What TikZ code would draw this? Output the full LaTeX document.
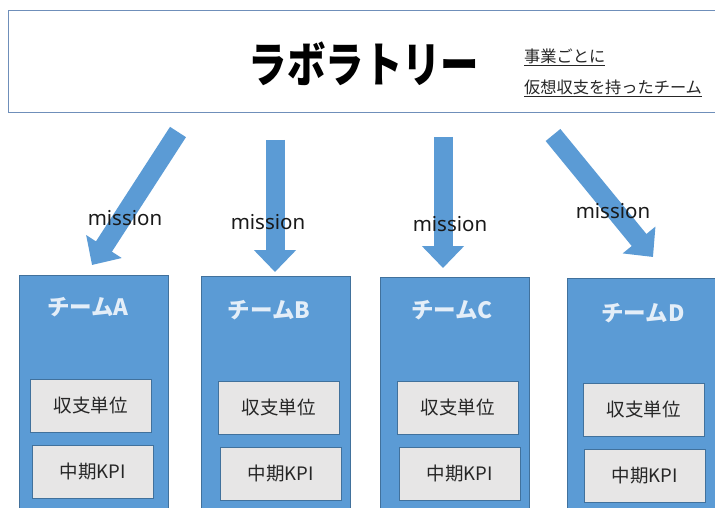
\documentclass[tikz,border=0pt]{standalone}
\usepackage{fontspec}
\usetikzlibrary{arrows.meta}
\newfontfamily\jp{Noto Sans CJK JP}
\newfontfamily\lat{Noto Sans}
\definecolor{teamblue}{HTML}{5B9BD5}
\definecolor{bordblue}{HTML}{41719C}
\definecolor{topbord}{HTML}{6F8FBA}
\definecolor{innerfill}{HTML}{E7E6E6}
\definecolor{titlewhite}{HTML}{E4EEF8}
\tikzset{
  topbox/.style={draw=topbord, line width=1.2pt, fill=white},
  teambox/.style={draw=bordblue, fill=teamblue, line width=0.8pt, anchor=north west, minimum width=149pt, minimum height=245pt, inner sep=0pt},
  innerbox/.style={draw=bordblue, fill=innerfill, line width=0.8pt, anchor=north west, minimum width=121pt, minimum height=53pt, inner sep=0pt, font=\jp\fontsize{18.5}{21}\selectfont, text=black!85},
  teamtitle/.style={font=\jp\bfseries\fontsize{22.5}{25}\selectfont, text=titlewhite, inner sep=0pt},
  blockarrow/.style={draw=teamblue, line width=19pt, -{Triangle[length=22pt,width=41pt]}},
  missionlbl/.style={font=\lat\fontsize{20.5}{24}\selectfont, text=black!90, inner sep=0pt},
  subline/.style={font=\jp\fontsize{16.2}{18}\selectfont, text=black!85, anchor=west, inner sep=0pt}
}
\begin{document}
\begin{tikzpicture}[x=1pt,y=-1pt]
\useasboundingbox (0,0) rectangle (715,508);
% top box
\node[topbox, anchor=north west, minimum width=712pt, minimum height=102pt, inner sep=0pt] (lab) at (8,10) {};
\node[font=\jp\bfseries\fontsize{48}{50}\selectfont, inner sep=0pt] (title) at (364,64) {\scalebox{0.8}[1]{ラボラトリー}};
\node[subline] (sub1) at (524,57) {\underline{事業ごとに}};
\node[subline] (sub2) at (524,88) {\underline{仮想収支を持ったチーム}};
% team boxes
\node[teambox] (tA) at (19,275) {};
\node[teambox] (tB) at (201,276) {};
\node[teambox] (tC) at (380,277) {};
\node[teambox, minimum width=152pt] (tD) at (567,278) {};
% team titles
\node[teamtitle] (nA) at (88,307) {チームA};
\node[teamtitle] (nB) at (269,310) {チームB};
\node[teamtitle] (nC) at (452,310) {チームC};
\node[teamtitle] (nD) at (643,313) {チームD};
% inner boxes
\node[innerbox] (sA) at (30,379) {収支単位};
\node[innerbox] (kA) at (32,445) {中期KPI};
\node[innerbox] (sB) at (218,381) {収支単位};
\node[innerbox] (kB) at (220,447) {中期KPI};
\node[innerbox] (sC) at (397,381) {収支単位};
\node[innerbox] (kC) at (399,447) {中期KPI};
\node[innerbox] (sD) at (583,383) {収支単位};
\node[innerbox] (kD) at (584,449) {中期KPI};
% arrows
\coordinate (aA1) at (178,132); \coordinate (aA2) at (92,265);
\coordinate (aB1) at (275,140); \coordinate (aB2) at (275,272);
\coordinate (aC1) at (443,137); \coordinate (aC2) at (443,268);
\coordinate (aD1) at (553,135); \coordinate (aD2) at (653,257);
\draw[blockarrow] (aA1) -- (aA2);
\draw[blockarrow] (aB1) -- (aB2);
\draw[blockarrow] (aC1) -- (aC2);
\draw[blockarrow] (aD1) -- (aD2);
% mission labels
\node[missionlbl] (mA) at (125,218) {mission};
\node[missionlbl] (mB) at (268,222) {mission};
\node[missionlbl] (mC) at (450,224) {mission};
\node[missionlbl] (mD) at (613,211) {mission};
\end{tikzpicture}
\end{document}
